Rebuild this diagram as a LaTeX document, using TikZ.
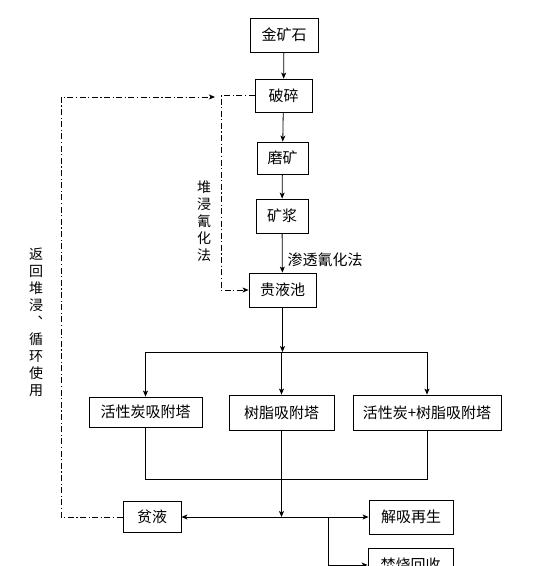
\documentclass[tikz,border=0pt]{standalone}
\usepackage{fontspec}
\setmainfont{Noto Sans CJK SC}
\usetikzlibrary{arrows.meta}

\begin{document}
\begin{tikzpicture}[x=1pt,y=-1pt,
  box/.style={draw,line width=0.8pt,inner sep=0pt,font=\fontsize{15}{18}\selectfont},
  flow/.style={line width=0.8pt,-{Stealth[length=6pt,width=5pt,inset=1.5pt]}},
  loop/.style={line width=0.8pt,dash pattern=on 6pt off 2.5pt on 1.2pt off 2.5pt},
  vlabel/.style={align=center,inner sep=0pt,font=\fontsize{14}{17}\selectfont}]
  \useasboundingbox (0,0) rectangle (541,566);
  \clip (0,0) rectangle (541,566);
  % main line
  \node[box,minimum width=68pt,minimum height=34pt] (ore) at (284,35) {金矿石};
  \node[box,minimum width=57pt,minimum height=33pt] (crush) at (283.5,95.5) {破碎};
  \node[box,minimum width=51pt,minimum height=32pt] (grind) at (282.5,158) {磨矿};
  \node[box,minimum width=52pt,minimum height=34pt] (pulp) at (282,216) {矿浆};
  \node[box,minimum width=67pt,minimum height=34pt] (pool) at (282.5,290) {贵液池};
  % adsorption towers
  \node[box,minimum width=113pt,minimum height=30pt] (ac) at (145.5,412) {活性炭吸附塔};
  \node[box,minimum width=105pt,minimum height=35pt] (resin) at (281.5,412.5) {树脂吸附塔};
  \node[box,minimum width=148pt,minimum height=35pt] (acr) at (427,412.5) {活性炭+树脂吸附塔};
  % products
  \node[box,minimum width=58pt,minimum height=31pt] (lean) at (152,517) {贫液};
  \node[box,minimum width=84pt,minimum height=34pt] (desorb) at (411,517) {解吸再生};
  \node[box,minimum width=85pt,minimum height=34pt] (burn) at (410.5,565) {焚烧回收};
  \draw[flow] (ore) -- (crush);
  \draw[flow] (crush) -- (grind);
  \draw[flow] (grind) -- (pulp);
  \draw[flow] (pulp) -- node[pos=0.68,right=5pt,inner sep=0pt,font=\fontsize{15}{18}\selectfont] (perc) {渗透氰化法} (pool);
  % split to towers
  \coordinate (split) at (282.5,352);
  \coordinate (sl) at (145.5,352);
  \coordinate (sr) at (427,352);
  \draw[flow] (pool) -- (split);
  \draw[line width=0.8pt] (sl) -- (sr);
  \draw[flow] (sl) -- (ac);
  \draw[flow] (split -| resin) -- (resin);
  \draw[flow] (sr) -- (acr);
  % merge
  \coordinate (ml) at (145.5,479);
  \coordinate (mr) at (427,479);
  \coordinate (join) at (281.5,517);
  \coordinate (fork) at (328,517);
  \draw[line width=0.8pt] (ac) -- (ml) -- (mr) -- (acr);
  \draw[flow] (resin) -- (join);
  \draw[flow] (join) -- (lean);
  \draw[flow] (join) -- (desorb);
  \draw[flow] (fork) |- (burn);
  % heap leaching
  \coordinate (heapTop) at (221,95.5);
  \coordinate (heapBot) at (221,290);
  \draw[loop,-{Stealth[length=6pt,width=5pt,inset=1.5pt]}] (crush) -- (heapTop) -- (heapBot) -- (pool);
  \node[vlabel] (heap) at (204,221) {堆\\浸\\氰\\化\\法};
  % return loop
  \coordinate (retA) at (61,517);
  \coordinate (retB) at (61,97);
  \coordinate (retEnd) at (215,97);
  \draw[loop,-{Stealth[length=6pt,width=5pt,inset=1.5pt]}] (lean) -- (retA) -- (retB) -- (retEnd);
  \node[vlabel] (ret) at (36,322) {返\\回\\堆\\浸\\︑\\循\\环\\使\\用};
\end{tikzpicture}
\end{document}
